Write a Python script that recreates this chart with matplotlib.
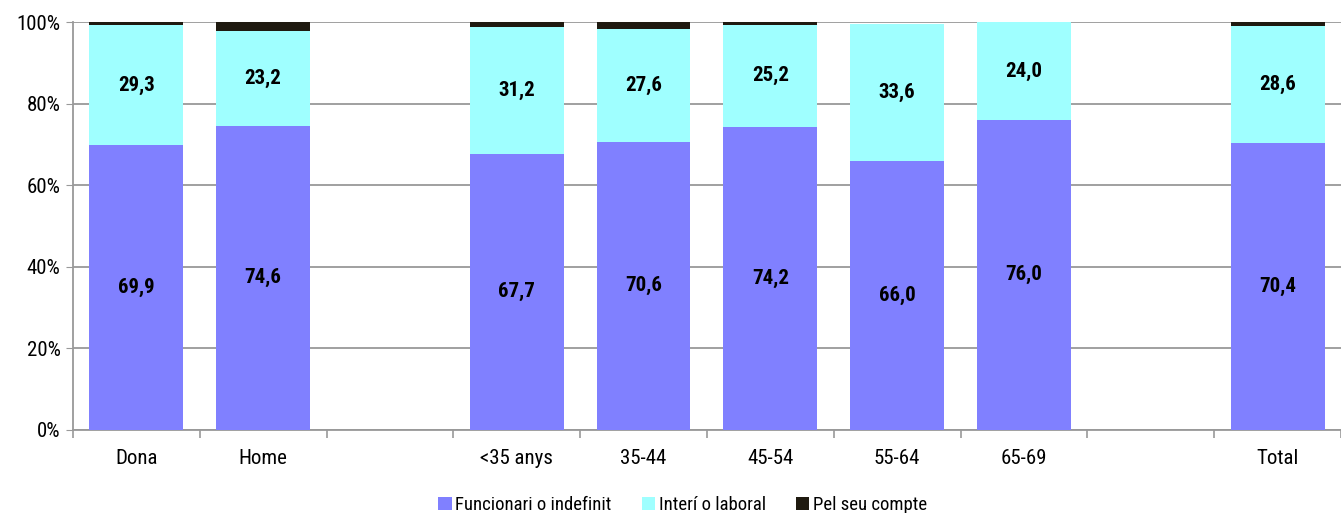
import numpy as np
import matplotlib.pyplot as plt
from matplotlib import font_manager
from matplotlib.ticker import FixedLocator, PercentFormatter

# Arial Narrow look-alike if one is installed, else plain Liberation Sans
installed = {f.name for f in font_manager.fontManager.ttflist}
narrow = [n for n in ['Liberation Sans Narrow', 'Arial Narrow', 'Roboto Condensed'] if n in installed]
plt.rcParams['font.family'] = narrow + ['Liberation Sans', 'DejaVu Sans']
fs = 15 if narrow else 13.5

categories = ['Dona', 'Home', '', '<35 anys', '35-44', '45-54', '55-64', '65-69', '', 'Total']
funcionari = [69.9, 74.6, np.nan, 67.7, 70.6, 74.2, 66.0, 76.0, np.nan, 70.4]
interi = [29.3, 23.2, np.nan, 31.2, 27.6, 25.2, 33.6, 24.0, np.nan, 28.6]
pel_compte = [0.8, 2.2, np.nan, 1.1, 1.8, 0.6, 0.0, 0.0, np.nan, 1.0]

series_names = ['Funcionari o indefinit', 'Interí o laboral', 'Pel seu compte']
colors = ['#8080FF', '#9FFFFF', '#1F1A10']

fig = plt.figure(figsize=(13.41, 5.13), dpi=100)
ax = fig.add_axes([0.0544, 0.162, 0.9456, 0.795])

x = np.arange(len(categories))
w = 0.74
f = np.array(funcionari)
i_ = np.array(interi)
p = np.array(pel_compte)

ax.bar(x, f, w, color=colors[0], label=series_names[0], zorder=3)
ax.bar(x, i_, w, bottom=f, color=colors[1], label=series_names[1], zorder=3)
ax.bar(x, p, w, bottom=f + i_, color=colors[2], label=series_names[2], zorder=3)

for k in range(len(categories)):
    if np.isnan(f[k]):
        continue
    ax.text(x[k], f[k] / 2, f'{f[k]:.1f}'.replace('.', ','), ha='center', va='center',
            fontsize=fs, fontweight='bold', zorder=4)
    ax.text(x[k], f[k] + i_[k] / 2, f'{i_[k]:.1f}'.replace('.', ','), ha='center', va='center',
            fontsize=fs, fontweight='bold', zorder=4)

ax.set_xlim(-0.5, len(categories) - 0.5)
ax.set_ylim(0, 100)
ax.set_yticks(np.arange(0, 101, 20))
ax.yaxis.set_major_formatter(PercentFormatter(decimals=0))
ax.yaxis.grid(True, color='#999999', linewidth=1.3, zorder=0)
ax.tick_params(axis='y', length=5, color='#999999', labelsize=fs, pad=4)

ax.set_xticks(x)
ax.set_xticklabels(categories)
ax.xaxis.set_minor_locator(FixedLocator(np.arange(-0.5, len(categories), 1)))
ax.tick_params(axis='x', which='major', length=0, labelsize=fs, pad=14)
ax.tick_params(axis='x', which='minor', length=6, color='#999999', width=1.2)

for s in ['top', 'right']:
    ax.spines[s].set_visible(False)
for s in ['left', 'bottom']:
    ax.spines[s].set_color('#999999')
    ax.spines[s].set_linewidth(1.3)

fig.legend(loc='lower center', bbox_to_anchor=(0.509, -0.035), ncol=3, frameon=False,
           fontsize=fs - 1.5, handlelength=0.7, handleheight=0.7, handletextpad=0.2,
           columnspacing=1.6)

fig.savefig('out.png', dpi=100)
